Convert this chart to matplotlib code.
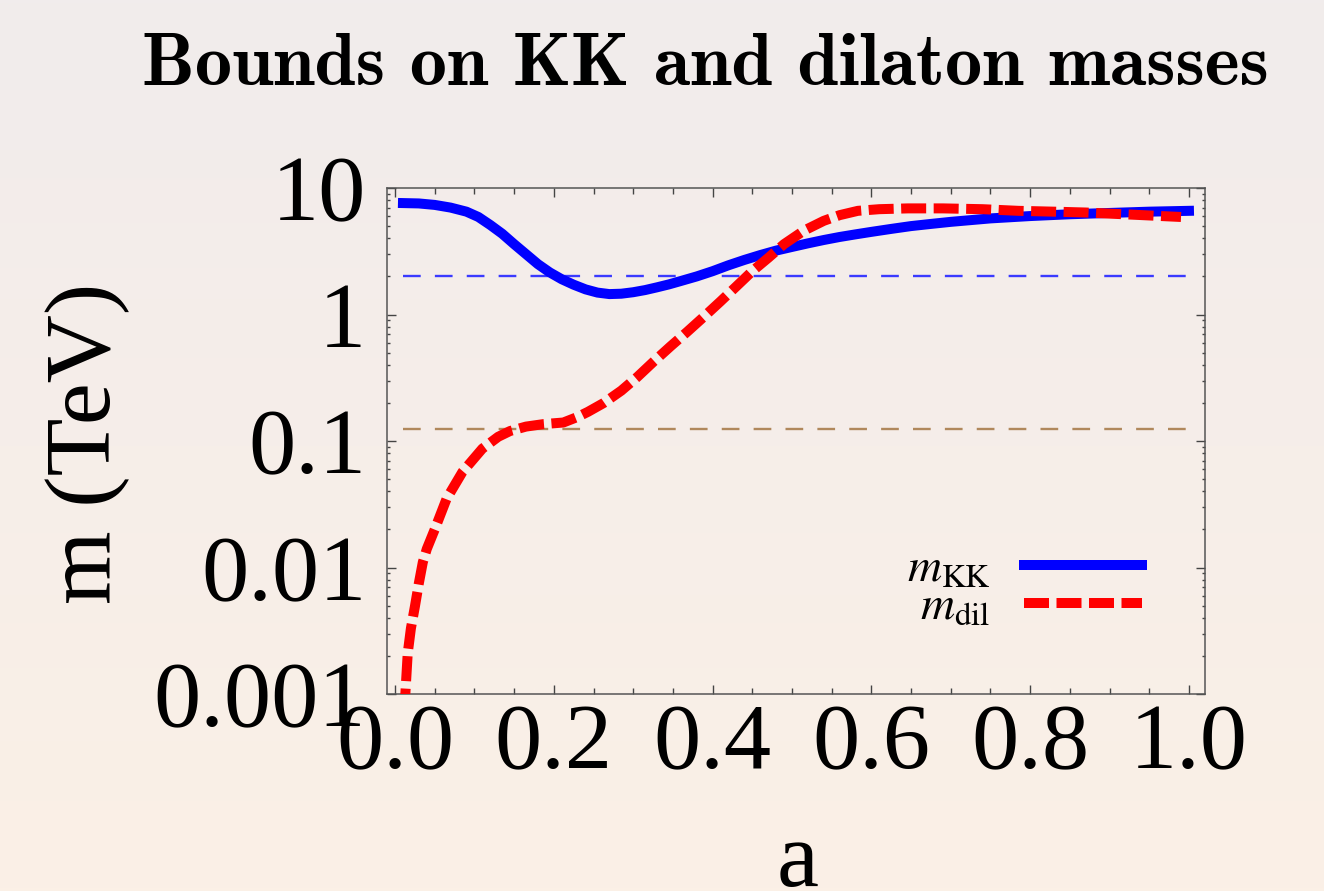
import numpy as np
import matplotlib
matplotlib.use("Agg")
import matplotlib.pyplot as plt
from matplotlib.colors import LinearSegmentedColormap
from matplotlib.ticker import FixedLocator, FixedFormatter, MultipleLocator, LogLocator, NullFormatter

plt.rcParams['mathtext.fontset'] = 'stix'

# ---------------- data ----------------
a_kk = [0.01, 0.03, 0.05, 0.07, 0.09, 0.105, 0.12, 0.135, 0.15, 0.165, 0.18,
        0.195, 0.21, 0.225, 0.24, 0.255, 0.27, 0.285, 0.30, 0.315, 0.33, 0.345,
        0.36, 0.38, 0.40, 0.42, 0.44, 0.46, 0.48, 0.50, 0.52, 0.54, 0.56, 0.58,
        0.60, 0.625, 0.65, 0.675, 0.70, 0.75, 0.80, 0.85, 0.90, 0.95, 1.00]
m_kk = [7.6, 7.55, 7.35, 7.0, 6.5, 5.9, 5.1, 4.35, 3.6, 3.0, 2.5,
        2.15, 1.9, 1.72, 1.58, 1.49, 1.45, 1.46, 1.5, 1.56, 1.64, 1.73,
        1.84, 2.0, 2.2, 2.45, 2.7, 2.95, 3.2, 3.42, 3.65, 3.88, 4.1, 4.3,
        4.5, 4.75, 5.0, 5.2, 5.4, 5.75, 6.0, 6.2, 6.35, 6.5, 6.6]

a_dil = [0.012, 0.013, 0.016, 0.020, 0.025, 0.030, 0.035, 0.040, 0.050, 0.065,
         0.085, 0.110, 0.130, 0.145, 0.165, 0.187, 0.212, 0.230, 0.243, 0.263,
         0.285, 0.305, 0.325, 0.347, 0.368, 0.389, 0.410, 0.430, 0.450, 0.470,
         0.490, 0.515, 0.540, 0.560, 0.583, 0.610, 0.646, 0.690, 0.740, 0.785,
         0.830, 0.870, 0.930, 0.990]
m_dil = [0.0007, 0.001, 0.0021, 0.0033, 0.0049, 0.0075, 0.011, 0.014, 0.020, 0.035,
         0.057, 0.087, 0.108, 0.120, 0.130, 0.136, 0.140, 0.155, 0.170, 0.200,
         0.250, 0.320, 0.420, 0.560, 0.730, 0.960, 1.27, 1.67, 2.2, 2.8,
         3.6, 4.6, 5.5, 6.1, 6.6, 6.8, 6.9, 6.9, 6.8, 6.6,
         6.5, 6.4, 6.15, 5.9]

ref_a = [0.01, 1.0]
ref_kk_bound = 2.0
ref_higgs = 0.125

x_ticks = [0.0, 0.2, 0.4, 0.6, 0.8, 1.0]
x_ticklabels = ['0.0', '0.2', '0.4', '0.6', '0.8', '1.0']
y_ticks = [0.001, 0.01, 0.1, 1, 10]
y_ticklabels = ['0.001', '0.01', '0.1', '1', '10']

title = 'Bounds on KK and dilaton masses'
ylabel = 'm (TeV)'
xlabel = 'a'
labels = [r'$m_{\rm KK}$', r'$m_{\rm dil}$']

# ---------------- figure ----------------
W, H = 1324, 891
fig = plt.figure(figsize=(W / 100, H / 100), dpi=100)

# background gradient
bg = fig.add_axes([0, 0, 1, 1], zorder=-10)
cmap = LinearSegmentedColormap.from_list('bg', ['#FBF0E6', '#F1ECEC'])
grad = np.linspace(0, 1, 256).reshape(-1, 1)
bg.imshow(grad, aspect='auto', cmap=cmap, origin='lower', extent=[0, 1, 0, 1])
bg.set_axis_off()

L, R, T, B = 387, 1205, 188, 694
ax = fig.add_axes([L / W, (H - B) / H, (R - L) / W, (B - T) / H])
ax.set_facecolor('none')
ax.set_yscale('log')
ax.set_xlim(-0.0101, 1.0202)
ax.set_ylim(1e-3, 10)

ax.plot(ref_a, [ref_kk_bound] * 2, color='#3A3AFF', lw=1.7, dashes=(7.5, 6))
ax.plot(ref_a, [ref_higgs] * 2, color='#B0885C', lw=1.7, dashes=(7.5, 6))

ax.plot(a_kk, m_kk, color='#0000FF', lw=7.2, solid_capstyle='projecting',
        solid_joinstyle='round', label=labels[0], zorder=3)
ax.plot(a_dil, m_dil, color='#FF0000', lw=7.2, dashes=(2.5, 0.75),
        dash_capstyle='butt', dash_joinstyle='round', label=labels[1], zorder=4)

ax.xaxis.set_major_locator(FixedLocator(x_ticks))
ax.xaxis.set_major_formatter(FixedFormatter(x_ticklabels))
ax.xaxis.set_minor_locator(MultipleLocator(0.05))
ax.yaxis.set_major_locator(FixedLocator(y_ticks))
ax.yaxis.set_major_formatter(FixedFormatter(y_ticklabels))
ax.yaxis.set_minor_locator(LogLocator(base=10, subs=np.arange(2, 10)))
ax.yaxis.set_minor_formatter(NullFormatter())

for lab in ax.get_xticklabels() + ax.get_yticklabels():
    lab.set_fontfamily('Liberation Serif')
    lab.set_fontsize(68)

ax.tick_params(which='both', direction='in', top=True, right=True, color='#444444', width=1.0)
ax.tick_params(which='major', length=6.7)
ax.tick_params(axis='x', which='minor', length=4)
ax.tick_params(axis='y', which='minor', length=2.5)
ax.tick_params(axis='y', which='major', pad=15)
ax.tick_params(axis='x', which='major', pad=7)
for s in ax.spines.values():
    s.set_color('#555555')
    s.set_linewidth(1.1)

fig.text(88 / W, 1 - 443 / H, ylabel, rotation=90, ha='center', va='center',
         family='Liberation Serif', fontsize=68)
fig.text(798 / W, 1 - 886 / H, xlabel, ha='center', va='baseline',
         family='Liberation Serif', fontsize=68)
fig.text(705.5 / W, 1 - 85 / H, title, ha='center', va='baseline',
         family='cmb10', fontsize=53.5)

leg = ax.legend(loc='lower right',
                bbox_to_anchor=((1146 - L) / (R - L) - 0.005, (B - 630) / (B - T)),
                markerfirst=False, frameon=False, handlelength=2.5, handletextpad=0.7,
                labelspacing=-0.1, prop=dict(family='Liberation Serif', size=34),
                borderpad=0, borderaxespad=0)

fig.savefig('out.png', dpi=100)
